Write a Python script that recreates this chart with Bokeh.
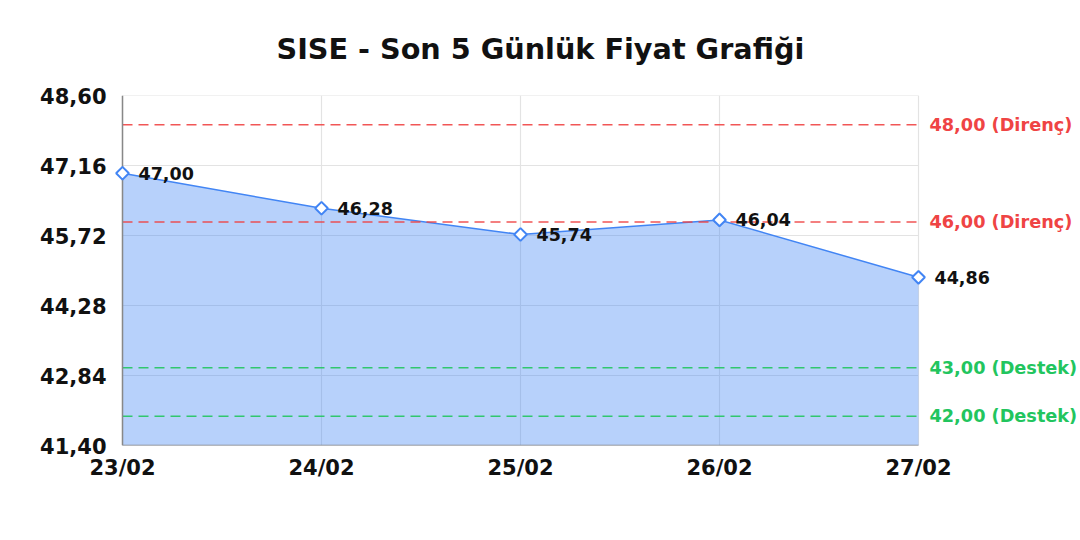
from bokeh.plotting import figure
from bokeh.models import Range1d, FixedTicker, Label
from bokeh.embed import file_html
from bokeh.resources import INLINE

title_text = "SISE - Son 5 Günlük Fiyat Grafiği"
dates = ["23/02", "24/02", "25/02", "26/02", "27/02"]
prices = [47.00, 46.28, 45.74, 46.04, 44.86]
price_labels = ["47,00", "46,28", "45,74", "46,04", "44,86"]
y_ticks = [41.40, 42.84, 44.28, 45.72, 47.16, 48.60]
y_tick_labels = ["41,40", "42,84", "44,28", "45,72", "47,16", "48,60"]
resistance = [48.00, 46.00]
resistance_labels = ["48,00 (Direnç)", "46,00 (Direnç)"]
support = [43.00, 42.00]
support_labels = ["43,00 (Destek)", "42,00 (Destek)"]

FONT = "DejaVu Sans"
BLUE = "#4285f4"
RED = "#ef4444"
GREEN = "#22c55e"

W, H = 1080, 540
AX_LEFT, AX_RIGHT = 122, 918        # pixel position of first / last category
PAD_LEFT = 10                       # room so first marker isn't clipped
TOP, BOTTOM = 95, 445

xs = list(range(len(dates)))
n_last = len(dates) - 1
y_min, y_max = y_ticks[0], y_ticks[-1]
px_per_x = (AX_RIGHT - AX_LEFT) / n_last
frame_left = AX_LEFT - PAD_LEFT
x_start = -PAD_LEFT / px_per_x
x_end = (W - AX_LEFT) / px_per_x

p = figure(width=W, height=H, output_backend="svg", toolbar_location=None,
           x_range=Range1d(x_start, x_end), y_range=Range1d(y_min, y_max),
           min_border_left=frame_left, min_border_right=0,
           min_border_top=TOP, min_border_bottom=H - BOTTOM)
p.outline_line_color = None
p.background_fill_color = "white"
p.border_fill_color = "white"

# title
p.title.text = title_text
p.title.align = "left"
p.title.offset = 276 - frame_left
p.title.standoff = 59
p.title.text_font = FONT
p.title.text_font_style = "bold"
p.title.text_font_size = "28.7px"
p.title.text_color = "#111111"

# grid
p.xgrid.grid_line_color = "#e3e3e3"
p.xgrid.grid_line_width = 1.2
p.ygrid.grid_line_color = None
p.segment(x0=[0] * len(y_ticks), y0=y_ticks, x1=[n_last] * len(y_ticks), y1=y_ticks,
          line_color="#e3e3e3", line_width=1.2)

# axes (lines drawn manually so they stop at the last category)
p.xaxis.ticker = FixedTicker(ticks=xs)
p.xaxis.major_label_overrides = {i: d for i, d in zip(xs, dates)}
p.yaxis.ticker = FixedTicker(ticks=y_ticks)
p.yaxis.major_label_overrides = {t: l for t, l in zip(y_ticks, y_tick_labels)}
for ax in (p.xaxis[0], p.yaxis[0]):
    ax.axis_line_color = None
    ax.major_tick_line_color = None
    ax.minor_tick_line_color = None
    ax.major_label_text_font = FONT
    ax.major_label_text_font_style = "bold"
    ax.major_label_text_font_size = "21px"
    ax.major_label_text_color = "#111111"
p.yaxis.major_label_standoff = 0
p.xaxis.major_label_standoff = 4

# area + line
p.varea(x=xs, y1=[y_min] * len(xs), y2=prices, fill_color=BLUE, fill_alpha=0.38)
p.line(xs, prices, line_color=BLUE, line_width=1.5)

# reference lines
p.segment(x0=[0] * len(resistance), y0=resistance, x1=[n_last] * len(resistance), y1=resistance,
          line_color=RED, line_width=1.5, line_dash="10 6", line_alpha=0.9)
p.segment(x0=[0] * len(support), y0=support, x1=[n_last] * len(support), y1=support,
          line_color=GREEN, line_width=1.5, line_dash="10 6", line_alpha=0.9)

# axis lines
p.segment(x0=[0, 0], y0=[y_min, y_min], x1=[n_last, 0], y1=[y_min, y_max],
          line_color="#888888", line_width=1.5)

# markers (rotated squares)
p.scatter(xs, prices, marker="square", angle=0.785398, size=9, fill_color="white",
          line_color=BLUE, line_width=2)

# data labels
for x, y, t in zip(xs, prices, price_labels):
    p.add_layout(Label(x=x, y=y, text=t, x_offset=16, y_offset=0, text_baseline="middle",
                       text_font=FONT, text_font_style="bold", text_font_size="17.5px",
                       text_color="#111111"))

# right-side level labels
for lvl, t in zip(resistance, resistance_labels):
    p.add_layout(Label(x=n_last, y=lvl, text=t, x_offset=11, text_baseline="middle",
                       text_font=FONT, text_font_style="bold", text_font_size="17.7px",
                       text_color=RED))
for lvl, t in zip(support, support_labels):
    p.add_layout(Label(x=n_last, y=lvl, text=t, x_offset=11, text_baseline="middle",
                       text_font=FONT, text_font_style="bold", text_font_size="17.7px",
                       text_color=GREEN))

open("out.html", "w").write(file_html(p, INLINE))
